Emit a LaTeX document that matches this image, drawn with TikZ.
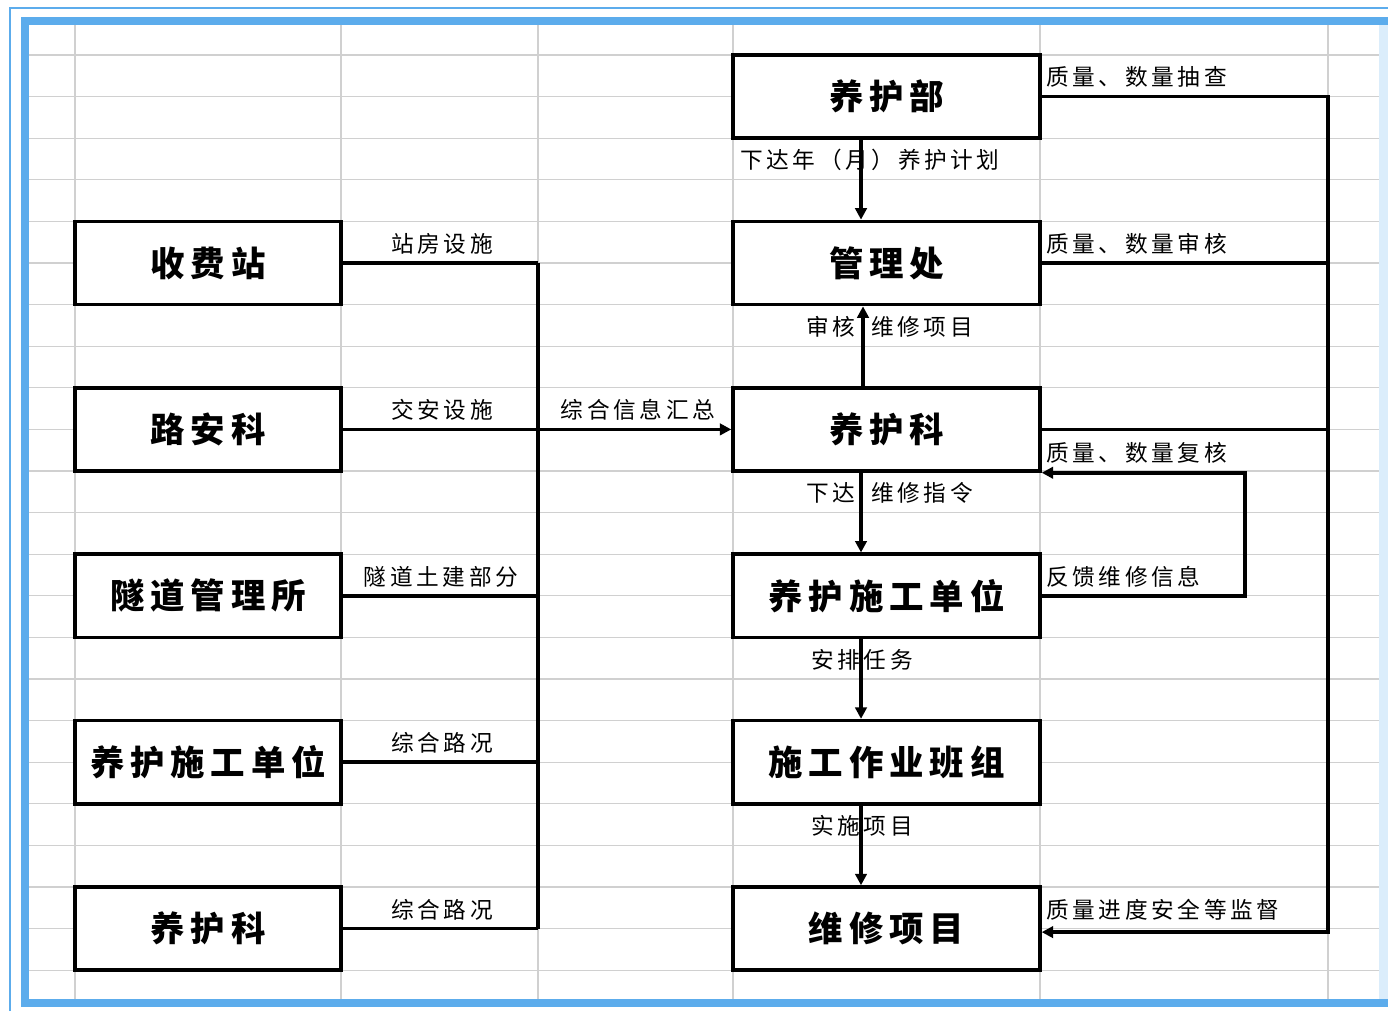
\documentclass[tikz,border=0pt]{standalone}
\usepackage{fontspec}
\usepackage{tikz}
\usetikzlibrary{arrows.meta}

\newfontfamily\boxfont{Noto Sans CJK SC}[LetterSpace=17]
\newfontfamily\lblfont{Noto Sans CJK SC}[LetterSpace=16]
\definecolor{frameblue}{RGB}{92,172,236}
\definecolor{gridgray}{RGB}{208,208,208}

\begin{document}
\begin{tikzpicture}[x=0.02cm, y=-0.02cm,
gridline/.style={gridgray, line width=0.6pt},
lbox/.style={draw, line width=2pt, fill=white, inner sep=0pt,
  minimum width=5.32cm, minimum height=1.664cm,
  font=\boxfont\bfseries\fontsize{19.6pt}{21pt}\selectfont},
rbox/.style={lbox, minimum width=6.14cm},
lbl/.style={inner sep=0pt, font=\lblfont\fontsize{12.9pt}{14pt}\selectfont},
conn/.style={line width=2pt},
arr/.style={conn, -{Triangle[length=6.5pt, width=6.5pt]}}]

\useasboundingbox (0,0) rectangle (1388,1011);

% Draw the sheet frame
\draw[frameblue, line width=1.1pt] (10,1011) -- (10,8) -- (1388,8);
\fill[frameblue!22] (1379,25) rectangle (1388,999);
\draw[frameblue, line width=4.5pt] (1388,21) -- (25,21) -- (25,1003) -- (1388,1003);

% Draw the cell grid
\foreach \x in {75,341,538,733,1040,1328} {
	\draw[gridline] (\x,25) -- (\x,999); % columns
}
\foreach \k in {0,...,22} {
	\draw[gridline] (29,{55+41.6*\k}) -- (1379,{55+41.6*\k}); % rows
}

% Left column boxes
\node[lbox] (sfz)   at (208,263)   {收费站};
\node[lbox] (lak)   at (208,429.4) {路安科};
\node[lbox] (sdgls) at (208,595.8) {隧道管理所};
\node[lbox] (sgdwl) at (208,762.2) {养护施工单位};
\node[lbox] (yhkl)  at (208,928.6) {养护科};

% Right column boxes
\node[rbox] (yhb)  at (886.5,96.6)  {养护部};
\node[rbox] (glc)  at (886.5,263)   {管理处};
\node[rbox] (yhk)  at (886.5,429.4) {养护科};
\node[rbox] (sgdw) at (886.5,595.8) {养护施工单位};
\node[rbox] (bz)   at (886.5,762.2) {施工作业班组};
\node[rbox] (wxxm) at (886.5,928.6) {维修项目};

% Bus and column coordinates
\coordinate (lbus) at (538,0);
\coordinate (rbus) at (1328,0);
\coordinate (fb)   at (1245,0);
\coordinate (ax)   at (861,0);

% Left side lines into the bus
\foreach \n in {sfz,sdgls,sgdwl,yhkl} {
	\draw[conn] (\n.east) -- (\n.east -| lbus);
}
\draw[conn] (sfz.east -| lbus) -- (yhkl.east -| lbus);
\draw[arr] (lak.east) -- (yhk.west);

\node[lbl] (t1) at (442,244) {站房设施};
\node[lbl] (t2) at (442,410) {交安设施};
\node[lbl] (t3) at (441,577) {隧道土建部分};
\node[lbl] (t4) at (442,743) {综合路况};
\node[lbl] (t5) at (442,910) {综合路况};
\node[lbl] (t6) at (638,410) {综合信息汇总};

% Vertical chain on the right column
\draw[arr] (yhb.south -| ax) -- (glc.north -| ax);
\draw[arr] ([xshift=0.04cm]yhk.north -| ax) -- ([xshift=0.04cm]glc.south -| ax);
\draw[arr] (yhk.south -| ax) -- (sgdw.north -| ax);
\draw[arr] (sgdw.south -| ax) -- (bz.north -| ax);
\draw[arr] (bz.south -| ax) -- (wxxm.north -| ax);

\node[lbl] (t7)  at (870,160) {下达年（月）养护计划};
\node[lbl] (t8)  at (831,327) {审核};
\node[lbl] (t9)  at (922,327) {维修项目};
\node[lbl] (t10) at (831,493) {下达};
\node[lbl] (t11) at (922,493) {维修指令};
\node[lbl] (t12) at (862,660) {安排任务};
\node[lbl] (t13) at (862,826) {实施项目};

% Checks back from the right side
\draw[arr] (yhb.east) -- (yhb.east -| rbus) -- ([yshift=-0.07cm]wxxm.east -| rbus) -- ([yshift=-0.07cm]wxxm.east);
\draw[conn] (glc.east) -- (glc.east -| rbus);
\draw[conn] (yhk.east) -- (yhk.east -| rbus);
\draw[arr] (sgdw.east) -- (sgdw.east -| fb) -- (fb |- yhk.south east) -- (yhk.south east);

\node[lbl, anchor=west] (t14) at (1046,77)  {质量、数量抽查};
\node[lbl, anchor=west] (t15) at (1046,244) {质量、数量审核};
\node[lbl, anchor=west] (t16) at (1046,453) {质量、数量复核};
\node[lbl, anchor=west] (t17) at (1046,577) {反馈维修信息};
\node[lbl, anchor=west] (t18) at (1046,910) {质量进度安全等监督};

\end{tikzpicture}
\end{document}
